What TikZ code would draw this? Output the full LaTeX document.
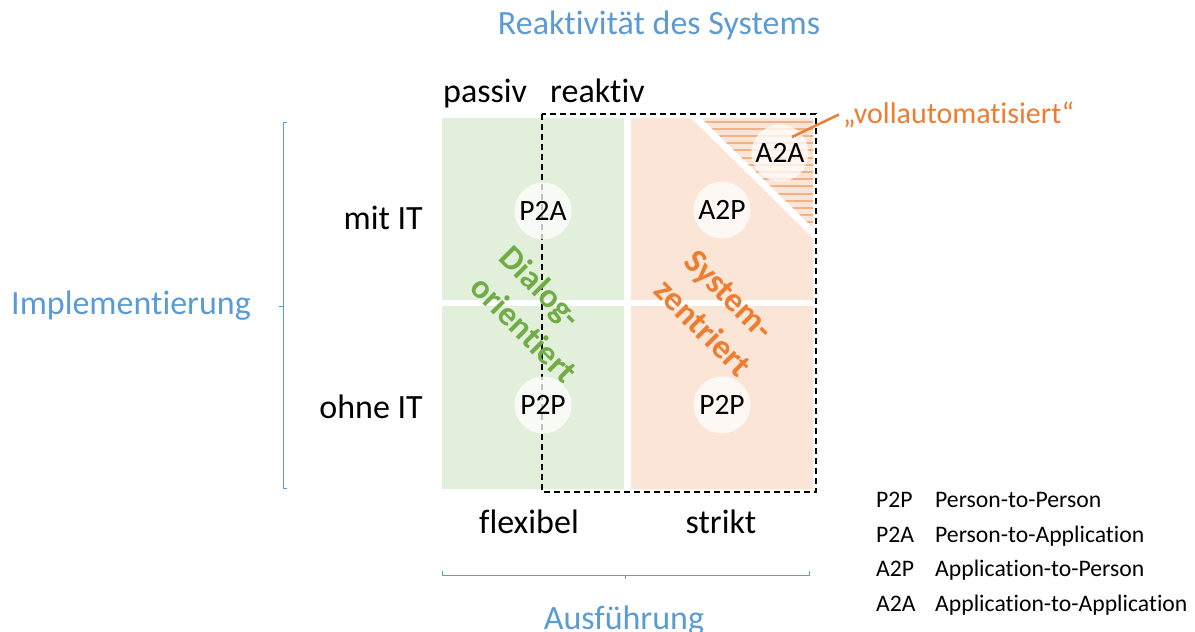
\documentclass[tikz,border=0pt]{standalone}
\usepackage{fontspec}
\setmainfont[Ligatures=NoCommon]{Carlito}
\definecolor{axisblue}{HTML}{5B9BD5}
\definecolor{greenfill}{HTML}{E2EFDA}
\definecolor{orangefill}{HTML}{FBE5D6}
\definecolor{hatchline}{HTML}{F4B183}
\definecolor{greentext}{HTML}{70AD47}
\definecolor{orangetext}{HTML}{ED7D31}
\tikzset{
  big/.style={font=\fontsize{34}{40}\selectfont, inner sep=0pt},
  axislabel/.style={big, text=axisblue},
  bracket/.style={draw=axisblue, line width=1pt},
  badge/.style={circle, fill=white, fill opacity=0.75, text opacity=1,
    minimum size=57pt, inner sep=0pt, font=\fontsize{29.5}{34}\selectfont},
  diagtext/.style={font=\bfseries\fontsize{34}{42}\selectfont, align=left, rotate=-45, inner sep=0pt},
  legend/.style={font=\fontsize{23.7}{28}\selectfont, inner sep=0pt, anchor=base west},
}
\begin{document}
\begin{tikzpicture}[x=1pt, y=-1pt]
\useasboundingbox (0,0) rectangle (1195,632);

% quadrant fills
\fill[greenfill] (442,118) rectangle (624,300);
\fill[greenfill] (442,306) rectangle (624,489);
\fill[orangefill] (631,118) rectangle (813,300);
\fill[orangefill] (631,306) rectangle (813,489);

% hatched corner (fully automated)
\begin{scope}
  \clip (694,118) -- (813,118) -- (813,233) -- cycle;
  \foreach \yy in {121.5,128.7,...,236} {
    \draw[hatchline, line width=2pt] (690,\yy) -- (815,\yy);
  }
\end{scope}
\draw[white, line width=7pt] (692,114) -- (817,237);

% reactive region
\draw[dashed, line width=1.3pt, dash pattern=on 6pt off 4pt] (542,114) rectangle (816,492);

% interaction badges
\node[badge] (p2a) at (543,211) {P2A};
\node[badge] (a2p) at (722,210) {A2P};
\node[badge] (p2pl) at (543,405) {P2P};
\node[badge] (p2pr) at (722,405) {P2P};
\node[badge] (a2a) at (780,153) {A2A};

% callout
\node[font=\fontsize{30}{34}\selectfont, text=orangetext, inner sep=0pt, anchor=base west] (voll) at (843,123) {„vollautomatisiert“};
\coordinate (calloutstart) at (792,137);
\draw[orangetext, line width=2.5pt] (calloutstart) -- ([xshift=-4pt]voll.west);

% diagonal region labels
\node[diagtext, text=greentext] (dialog) at (539,314) {Dialog-\\orientiert};
\node[diagtext, text=orangetext] (system) at (718,313) {System-\\zentriert};

% axis tick labels
\node[big, anchor=base west] (passiv) at (443,102) {passiv};
\node[big, anchor=base west] (reaktiv) at (550,102) {reaktiv};
\node[big, anchor=base east] (mitit) at (423,229) {mit IT};
\node[big, anchor=base east] (ohneit) at (423,418) {ohne IT};
\node[big, anchor=base] (flexibel) at (529,533) {flexibel};
\node[big, anchor=base] (strikt) at (721,533) {strikt};

% axis titles
\node[axislabel, anchor=base] (reakt) at (659,34) {Reaktivität des Systems};
\node[axislabel, anchor=base] (impl) at (131,314) {Implementierung};
\node[axislabel, anchor=base] (ausf) at (624,629) {Ausführung};

% brackets
\draw[bracket] (287,122) -- (283,122) -- (283,488) -- (287,488);
\draw[bracket] (283,306) -- (279,306);
\draw[bracket] (442,571) -- (442,575) -- (809,575) -- (809,571);
\draw[bracket] (625,575) -- (625,579);

% legend
\node[legend] (l1) at (876,507) {P2P};
\node[legend] (l2) at (876,542) {P2A};
\node[legend] (l3) at (876,576) {A2P};
\node[legend] (l4) at (876,611) {A2A};
\node[legend] (d1) at (935,507) {Person-to-Person};
\node[legend] (d2) at (935,542) {Person-to-Application};
\node[legend] (d3) at (935,576) {Application-to-Person};
\node[legend] (d4) at (935,611) {Application-to-Application};
\end{tikzpicture}
\end{document}
